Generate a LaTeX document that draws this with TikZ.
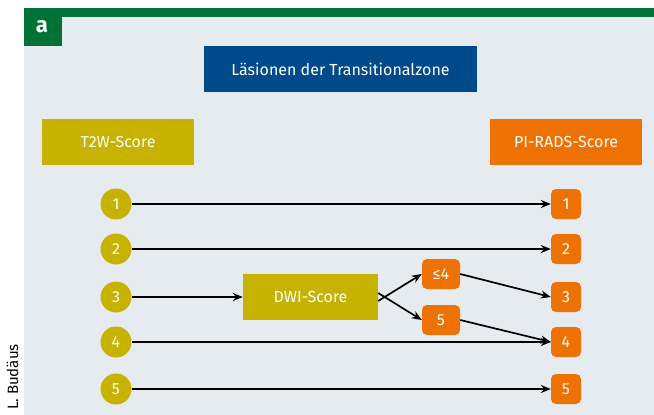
\documentclass[tikz,border=0pt]{standalone}
\usepackage{fontspec}
\setmainfont{Fira Sans}
\usetikzlibrary{arrows.meta}
\definecolor{bggray}{HTML}{E6EBF0}
\definecolor{tgreen}{HTML}{007236}
\definecolor{tblue}{HTML}{004A8B}
\definecolor{tolive}{HTML}{C7B200}
\definecolor{torange}{HTML}{EE7203}
\tikzset{
  hdr/.style={draw=none, text=white, minimum height=46pt, font=\fontsize{16}{18}\selectfont, inner sep=0pt},
  circ/.style={circle, fill=tolive, text=white, minimum size=31pt, inner sep=0pt, font=\fontsize{16}{18}\selectfont},
  obox/.style={rounded corners=5pt, fill=torange, text=white, minimum width=30pt, minimum height=30pt, inner sep=0pt, font=\fontsize{16}{18}\selectfont},
  conn/.style={-{Stealth[length=10pt,width=8pt]}, line width=1.7pt, black},
}
\begin{document}
\begin{tikzpicture}[x=1pt,y=-1pt]
\useasboundingbox (0,0) rectangle (654,415);
\fill[white] (0,0) rectangle (654,415);
\fill[bggray] (24,17) rectangle (654,415);
\fill[tgreen] (24,8) rectangle (654,17.3);
\fill[tgreen] (24,8) rectangle (62,45.7);
\node[text=white, font=\bfseries\fontsize{22}{24}\selectfont] (lbl) at (42,27) {a};
\node[rotate=90, font=\fontsize{15}{17}\selectfont, anchor=east, inner sep=0pt] (cred) at (12.5,344) {© L. Budäus};

\node[hdr, fill=tblue, minimum width=273pt] (title) at (340.5,69) {Läsionen der Transitionalzone};
\node[hdr, fill=tolive, minimum width=152pt] (t2w) at (118,141.5) {T2W-Score};
\node[hdr, fill=torange, minimum width=152pt] (pirads) at (566,141.5) {PI-RADS-Score};

\foreach \i/\y in {1/204,2/249,3/297,4/342,5/389}{
  \node[circ] (c\i) at (116,\y) {\i};
  \node[obox] (r\i) at (566,\y) {\i};
}
\node[hdr, fill=tolive, minimum width=135pt] (dwi) at (310.5,297) {DWI-Score};
\node[obox, minimum width=38pt] (le4) at (441,274) {≤4};
\node[obox, minimum width=38pt] (five) at (441,320) {5};

\draw[conn] (c1) -- (r1);
\draw[conn] (c2) -- (r2);
\draw[conn] (c3) -- (dwi);
\draw[conn] (c4) -- (r4);
\draw[conn] (c5) -- (r5);
\draw[conn] ([yshift=-4pt]dwi.east) -- (le4.west);
\draw[conn] ([yshift=4pt]dwi.east) -- (five.west);
\draw[conn] (le4.east) -- (r3.west);
\draw[conn] (five.east) -- (r4.west);
\end{tikzpicture}
\end{document}
